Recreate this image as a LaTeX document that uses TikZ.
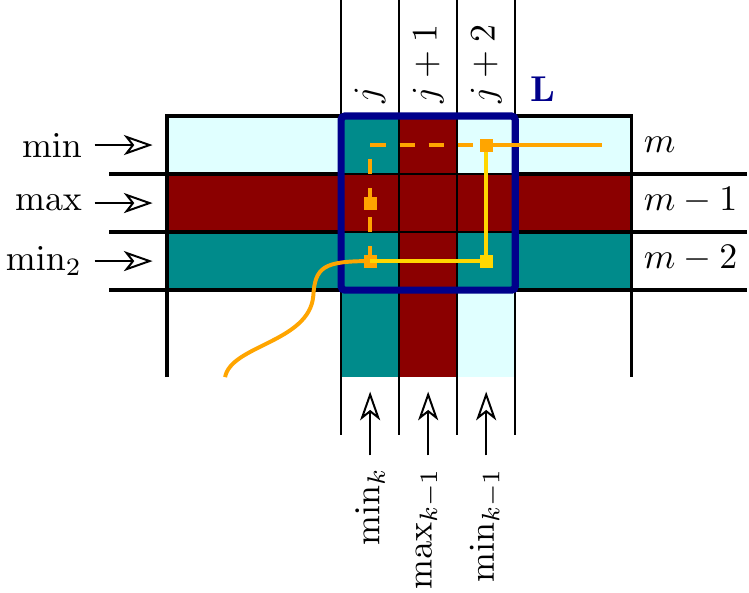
\documentclass[tikz,border=0pt]{standalone}
\usepackage{amsmath}
\usepackage{xcolor}
\usepackage{tikz}
\usetikzlibrary{arrows.meta}
\definecolor{cellCyan}{RGB}{224,255,255}
\definecolor{cellRed}{RGB}{139,0,0}
\definecolor{cellTeal}{RGB}{0,139,139}
\definecolor{boxBlue}{RGB}{0,0,139}
\definecolor{pathOrange}{RGB}{255,165,0}
\definecolor{pathGold}{RGB}{255,215,0}

\begin{document}
\begin{tikzpicture}[x=0.568cm, y=0.568cm,
rowline/.style={line width=0.95pt},
colline/.style={thin},
inarrow/.style={-{Stealth[open, length=8pt, width=5.6pt, inset=2.2pt]}, line width=0.55pt},
sqmark/.style={rectangle, inner sep=0pt, minimum size=3.6pt},
orangepath/.style={draw=pathOrange, line width=1.1pt},
goldpath/.style={draw=pathGold, line width=1.1pt},
rowlabel/.style={anchor=east},
sidelabel/.style={anchor=base west, yshift=-2.2pt},
toplabel/.style={rotate=90, anchor=west},
botlabel/.style={rotate=90, anchor=east}]

\useasboundingbox (-2.88,2) rectangle (10.03,-8.22);

% row fills
\fill[cellCyan] (0,0) rectangle (8,-1);
\fill[cellRed] (0,-1) rectangle (8,-2);
\fill[cellTeal] (0,-2) rectangle (8,-3);
% column fills
\fill[cellTeal] (3,0) rectangle (4,-1);
\fill[cellTeal] (3,-3) rectangle (4,-4.5);
\fill[cellRed] (4,0) rectangle (5,-4.5);
\fill[cellCyan] (5,-3) rectangle (6,-4.5);

% grid lines
\draw[rowline] (0,-4.5) -- (0,0) -- (8,0) -- (8,-4.5);
\foreach \y in {-1,-2,-3} {
  \draw[rowline] (-1,\y) -- (3,\y);
  \draw[rowline] (6,\y) -- (10,\y);
  \draw[colline] (3,\y) -- (6,\y);
}
\foreach \x in {3,...,6}
  \draw[colline] (\x,2) -- (\x,-5.5);

% window L
\draw[boxBlue, line width=2pt, rounded corners=1pt] (3,0) rectangle (6,-3);
\node[text=boxBlue, font=\bfseries] (win) at (6.47,0.46) {L};

% row labels
\node[rowlabel] (rmin) at (-1.25,-0.5) {$\min$};
\node[rowlabel] (rmax) at (-1.25,-1.5) {$\max$};
\node[rowlabel] (rmintwo) at (-1.25,-2.5) {$\min_2$};
\coordinate (tmin) at (-0.25,-0.5);
\coordinate (tmax) at (-0.25,-1.5);
\coordinate (tmintwo) at (-0.25,-2.5);
\draw[inarrow] (rmin) -- (tmin);
\draw[inarrow] (rmax) -- (tmax);
\draw[inarrow] (rmintwo) -- (tmintwo);

\node[sidelabel] (rm) at (8,-0.5) {$m$};
\node[sidelabel] (rmone) at (8,-1.5) {$m-1$};
\node[sidelabel] (rmtwo) at (8,-2.5) {$m-2$};

% column labels
\node[toplabel] (cj) at (3.5,0) {$j$};
\node[toplabel] (cjone) at (4.5,0) {$j+1$};
\node[toplabel] (cjtwo) at (5.5,0) {$j+2$};

\node[botlabel] (bmin) at (3.5,-5.85) {$\min_k$};
\node[botlabel] (bmax) at (4.5,-5.85) {$\max_{k-1}$};
\node[botlabel] (bminone) at (5.5,-5.85) {$\min_{k-1}$};
\coordinate (tj) at (3.5,-4.75);
\coordinate (tjone) at (4.5,-4.75);
\coordinate (tjtwo) at (5.5,-4.75);
\draw[inarrow] (bmin) -- (tj);
\draw[inarrow] (bmax) -- (tjone);
\draw[inarrow] (bminone) -- (tjtwo);

% paths
\coordinate (start) at (1,-4.5);
\coordinate (a1) at (3.5,-2.5);
\coordinate (a2) at (3.5,-1.5);
\coordinate (corner) at (3.5,-0.5);
\coordinate (a3) at (5.5,-0.5);
\coordinate (a4) at (5.5,-2.5);
\coordinate (stop) at (7.5,-0.5);

\draw[orangepath] (start) .. controls (1.1,-3.95) and (2.45,-3.9) .. (2.52,-3.1)
  .. controls (2.55,-2.6) and (2.7,-2.5) .. (a1);
\draw[orangepath, dash pattern=on 4.2pt off 3.9pt] (a1) -- (a2) -- (corner) -- (a3);
\draw[orangepath] (a3) -- (stop);
\node[sqmark, fill=pathOrange] (m1) at (a1) {};
\node[sqmark, fill=pathOrange] (m2) at (a2) {};
\draw[goldpath] (a1) -- (a4) -- (a3);
\node[sqmark, fill=pathGold] (m4) at (a4) {};
\node[sqmark, fill=pathOrange] (m3) at (a3) {};
\end{tikzpicture}
\end{document}
